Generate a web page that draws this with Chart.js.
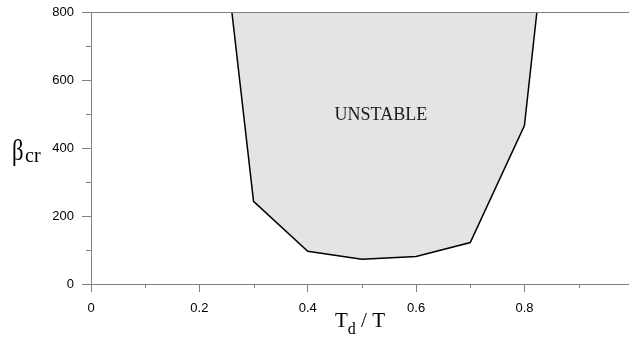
<!DOCTYPE html>
<html>
<head>
<meta charset="utf-8">
<script src="https://cdn.jsdelivr.net/npm/chart.js@4"></script>
<style>
  html, body { margin: 0; padding: 0; background: #fff; }
  #wrap { width: 629px; height: 339px; }
</style>
</head>
<body>
<div id="wrap"><canvas id="chart" width="629" height="339"></canvas></div>
<script>
// boundary of the unstable region (T_d/T , beta_cr)
var ratio = [0.26, 0.3, 0.4, 0.5, 0.6, 0.7, 0.8, 0.823];
var betaCr = [800, 243, 96, 73, 81, 122, 466, 800];
var xTicks = [0, 0.1, 0.2, 0.3, 0.4, 0.5, 0.6, 0.7, 0.8, 0.9];
var yTicks = [0, 100, 200, 300, 400, 500, 600, 700, 800];
var regionLabel = "UNSTABLE";
var regionPos = [0.535, 497];

var points = [];
for (let i = 0; i < ratio.length; i++) {
    points.push({ x: ratio[i], y: betaCr[i] });
}

var axisColor = '#808080';
var serif = '"Liberation Serif", "Times New Roman", serif';

function isMajorX(v) { return Math.round(v * 10) % 2 === 0; }
function isMajorY(v) { return v % 200 === 0; }

// top frame line, minor ticks, axis titles with subscripts, region label
var decor = {
    id: 'decor',
    afterDraw: function (chart) {
        var ctx = chart.ctx;
        var area = chart.chartArea;
        var xs = chart.scales.x, ys = chart.scales.y;
        ctx.save();
        ctx.strokeStyle = axisColor;
        ctx.lineWidth = 1;
        ctx.beginPath();
        ctx.moveTo(area.left, area.top + 0.5);
        ctx.lineTo(area.right, area.top + 0.5);
        // minor ticks, shorter than the major ones
        xTicks.forEach(function (v) {
            if (isMajorX(v)) return;
            var px = Math.round(xs.getPixelForValue(v)) + 0.5;
            ctx.moveTo(px, area.bottom);
            ctx.lineTo(px, area.bottom + 4);
        });
        yTicks.forEach(function (v) {
            if (isMajorY(v)) return;
            var py = Math.round(ys.getPixelForValue(v)) + 0.5;
            ctx.moveTo(area.left, py);
            ctx.lineTo(area.left - 5, py);
        });
        ctx.stroke();

        ctx.fillStyle = '#000';
        ctx.textBaseline = 'alphabetic';
        ctx.textAlign = 'left';

        // y title: beta_cr
        ctx.save();
        ctx.translate(12, 160);
        ctx.scale(0.78, 1);
        ctx.font = '29px ' + serif;
        ctx.fillText('\u03b2', 0, 0);
        ctx.restore();
        ctx.font = '20px ' + serif;
        ctx.fillText('cr', 25, 162);

        // x title: T_d / T
        var x0 = 335;
        ctx.font = '21px ' + serif;
        ctx.fillText('T', x0, 327);
        x0 += ctx.measureText('T').width;
        ctx.font = '16px ' + serif;
        ctx.fillText('d', x0, 334);
        x0 += ctx.measureText('d').width;
        ctx.font = '21px ' + serif;
        ctx.fillText(' / T', x0, 327);

        // region label
        ctx.font = '18px ' + serif;
        ctx.textAlign = 'center';
        ctx.textBaseline = 'middle';
        ctx.fillStyle = '#1a1a1a';
        ctx.fillText(regionLabel, xs.getPixelForValue(regionPos[0]), ys.getPixelForValue(regionPos[1]));
        ctx.restore();
    }
};

var ctx = document.getElementById('chart').getContext('2d');
var chart = new Chart(ctx, {
    type: 'line',
    data: {
        datasets: [{
            data: points,
            borderColor: '#000',
            borderWidth: 1.5,
            backgroundColor: '#e4e4e4',
            fill: 'end',
            pointRadius: 0,
            tension: 0
        }]
    },
    options: {
        responsive: false,
        animation: false,
        layout: { padding: { top: 12, right: 0, left: 0, bottom: 0 } },
        plugins: { legend: { display: false }, tooltip: { enabled: false } },
        scales: {
            x: {
                type: 'linear',
                min: 0,
                max: 0.993,
                afterBuildTicks: function (scale) {
                    scale.ticks = xTicks.map(function (v) { return { value: v }; });
                },
                afterFit: function (scale) {
                    scale.height = 55;
                    scale.paddingLeft = 0;
                    scale.paddingRight = 0;
                },
                ticks: {
                    color: '#000',
                    padding: 9,
                    maxRotation: 0,
                    autoSkip: false,
                    font: { family: '"Liberation Sans", Arial, sans-serif', size: 13 },
                    callback: function (v) {
                        return isMajorX(v) ? String(Math.round(v * 10) / 10) : '';
                    }
                },
                grid: {
                    drawOnChartArea: false,
                    tickLength: 8,
                    tickColor: function (c) {
                        return c.tick && isMajorX(c.tick.value) ? axisColor : 'rgba(0,0,0,0)';
                    }
                },
                border: { color: axisColor, width: 1 }
            },
            y: {
                min: 0,
                max: 800,
                afterBuildTicks: function (scale) {
                    scale.ticks = yTicks.map(function (v) { return { value: v }; });
                },
                afterFit: function (scale) {
                    scale.width = 91;
                    scale.paddingTop = 0;
                    scale.paddingBottom = 0;
                },
                ticks: {
                    color: '#000',
                    padding: 8,
                    autoSkip: false,
                    font: { family: '"Liberation Sans", Arial, sans-serif', size: 13 },
                    callback: function (v) { return isMajorY(v) ? String(v) : ''; }
                },
                grid: {
                    drawOnChartArea: false,
                    tickLength: 9,
                    tickColor: function (c) {
                        return c.tick && isMajorY(c.tick.value) ? axisColor : 'rgba(0,0,0,0)';
                    }
                },
                border: { color: axisColor, width: 1 }
            }
        }
    },
    plugins: [decor]
});
</script>
</body>
</html>
